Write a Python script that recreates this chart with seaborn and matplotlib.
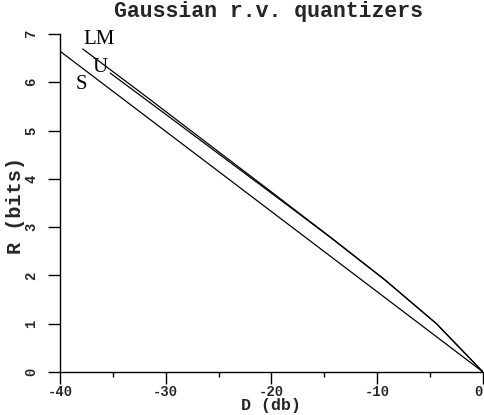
import matplotlib
matplotlib.use("Agg")
import matplotlib.pyplot as plt
import seaborn as sns
import pandas as pd
from matplotlib.ticker import MultipleLocator
from matplotlib.font_manager import FontProperties

# Data (distortion in dB, rate in bits)
lm_d = [0.0, -4.40, -9.30, -14.62, -20.22, -26.02, -31.89, -37.85]
lm_r = [0.0, 1.00, 1.911, 2.825, 3.765, 4.73, 5.71, 6.69]
u_d = [0.0, -4.40, -9.25, -14.27, -19.38, -24.57, -29.83, -35.25]
u_r = [0.0, 1.00, 1.904, 2.761, 3.602, 4.449, 5.309, 6.19]
s_d = [-40.0, 0.0]
s_r = [6.644, 0.0]

labels = ["LM", "U", "S"]
label_d = [-36.3, -36.2, -38.0]
label_r = [6.88, 6.30, 5.96]

x_ticks = [-40, -30, -20, -10, 0]
y_ticks = [0, 1, 2, 3, 4, 5, 6, 7]

sns.set_style("ticks")
plt.rcParams["axes.unicode_minus"] = False

df = pd.concat([
    pd.DataFrame({"D": lm_d, "R": lm_r, "q": "LM"}),
    pd.DataFrame({"D": u_d, "R": u_r, "q": "U"}),
    pd.DataFrame({"D": s_d, "R": s_r, "q": "S"}),
])

fig = plt.figure(figsize=(4.85, 4.15), dpi=100)
ax = fig.add_axes([60/485, 1-372/415, 423/485, (372-34)/415])

sns.lineplot(data=df, x="D", y="R", units="q", estimator=None, sort=False,
             color="black", linewidth=0.9, ax=ax, legend=False)

for t, xd, yr in zip(labels, label_d, label_r):
    ax.text(xd, yr, t, ha="center", va="center", fontsize=15,
            family="Liberation Serif", color="black")

ax.set_xlim(-40, 0)
ax.set_ylim(0, 7)
ax.set_xticks(x_ticks)
ax.set_yticks(y_ticks)
ax.xaxis.set_minor_locator(MultipleLocator(5))
ax.tick_params(axis="both", which="major", direction="out", length=8.5,
               width=1.0, color="black")
ax.tick_params(axis="x", which="minor", direction="out", length=3.6,
               width=1.0, color="black")
ax.tick_params(axis="x", pad=1.0)
ax.tick_params(axis="y", pad=7)

tick_fp = FontProperties(family="Liberation Mono", weight="bold", size=10)
xlabs = ax.get_xticklabels()
for lab in xlabs:
    lab.set_fontproperties(tick_fp)
xlabs[-1].set_ha("right")
for lab in ax.get_yticklabels():
    lab.set_fontproperties(tick_fp)
    lab.set_rotation(90)
    lab.set_va("center")

for s in ["top", "right"]:
    ax.spines[s].set_visible(False)
for s in ["left", "bottom"]:
    ax.spines[s].set_linewidth(1.0)
    ax.spines[s].set_color("black")

ax.set_xlabel("D (db)", family="Liberation Mono", weight="bold", fontsize=12)
ax.set_ylabel("R (bits)", family="Liberation Mono", weight="bold", fontsize=14.5)
ax.xaxis.set_label_coords(0.5, -0.076)
ax.yaxis.set_label_coords(-0.083, 0.494)

fig.text(269/485, 1-12/415, "Gaussian r.v. quantizers", ha="center",
         va="center", family="Liberation Mono", weight="bold", fontsize=15.5)

fig.savefig("out.png", dpi=100)
